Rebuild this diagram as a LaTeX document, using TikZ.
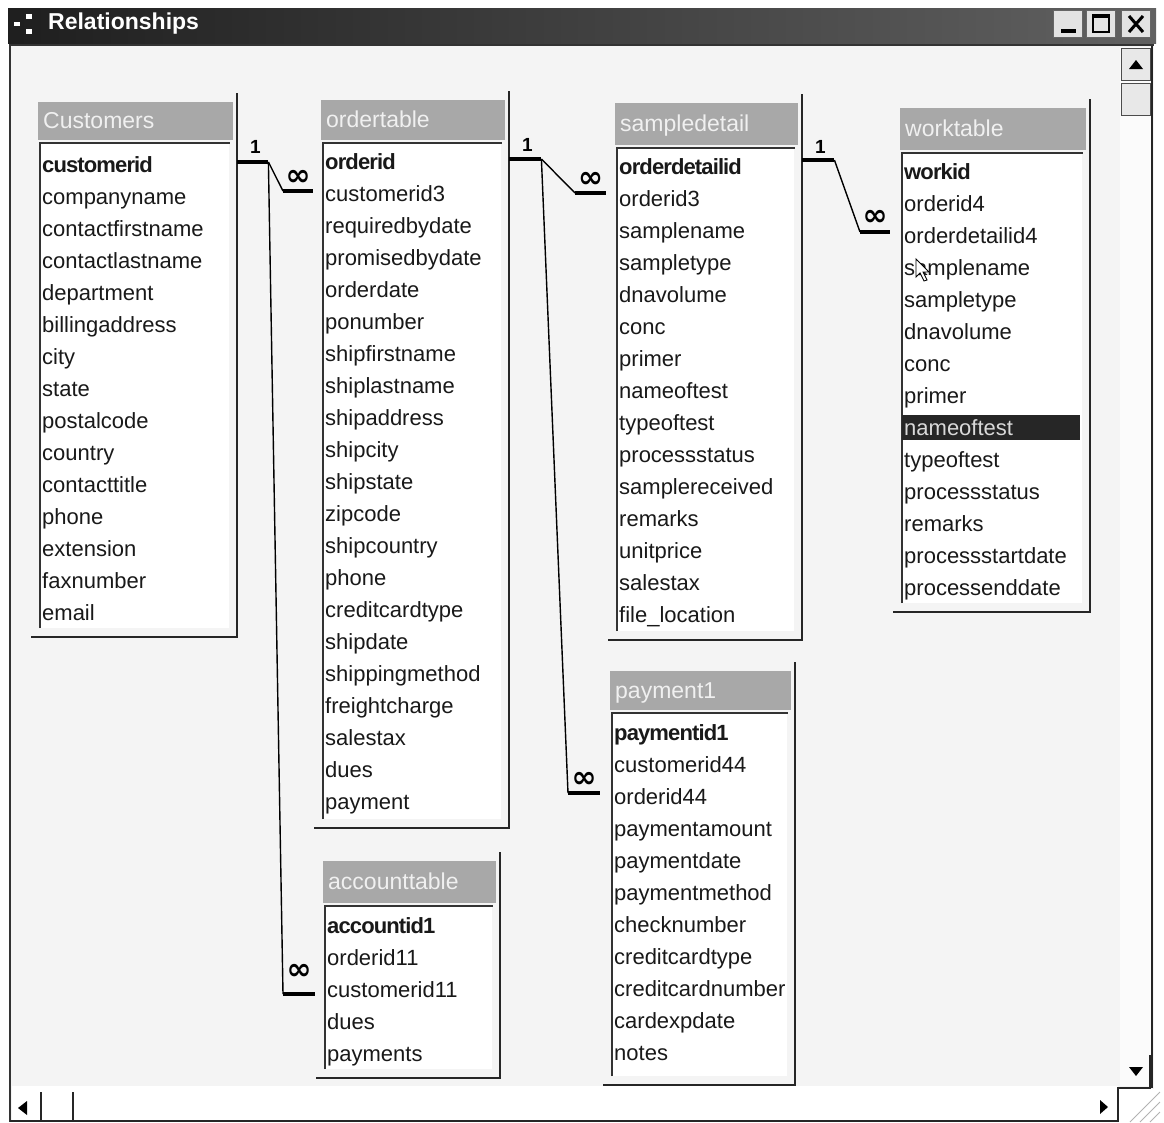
\documentclass[tikz,border=0pt]{standalone}
\usepackage{fontspec}
\setmainfont{Liberation Sans}
\newfontfamily\tightsans[LetterSpace=-4.0]{Liberation Sans}
\newfontfamily\symsans{DejaVu Sans}
\usetikzlibrary{calc}

\tikzset{
  field/.style={anchor=base west, inner sep=0pt, font=\fontsize{22}{24}\selectfont, text=black!90},
  keyfield/.style={field, font=\fontsize{22}{24}\selectfont\tightsans\bfseries},
  ttitle/.style={anchor=base west, inner sep=0pt, font=\fontsize{23}{25}\selectfont, text=white!88!gray},
  tframe/.style={inner sep=0pt, fill=gray!9, anchor=north west},
  edge/.style={line width=2pt, draw=black!85},
  rel/.style={line width=1.4pt, draw=black},
  stub/.style={line width=4pt, draw=black},
  onelbl/.style={inner sep=0pt, font=\fontsize{19}{19}\selectfont\bfseries},
  manylbl/.style={inner sep=0pt, font=\fontsize{30}{30}\selectfont\symsans\bfseries},
  fld work 8/.style={fill=black!85, text=white!85!black, xshift=-2pt,
    text width=174pt, minimum height=25pt, inner xsep=2pt},
  wintitle/.style={anchor=west, inner sep=0pt, font=\fontsize{23}{25}\selectfont\bfseries, text=white},
  winbtn/.style={minimum width=29pt, minimum height=27pt, inner sep=0pt, fill=gray!22, draw=black!60, line width=0.8pt},
  sbtn/.style={minimum width=29pt, minimum height=32pt, inner sep=0pt, fill=gray!18, draw=black!70, line width=1pt},
}

% field list window: name, left, right, top, header bottom, bottom, title, first row y, fields
\newcommand\acctable[9]{%
  \node[tframe, minimum width={(#3-#2)*1pt}, minimum height={(#6-#4)*1pt}] (#1) at (#2,#4) {};
  \fill[gray!68] (#2+3,#4+3) rectangle (#3-4,#5);
  \node[ttitle] (#1-title) at (#2+8,{(#4+#5)/2+9}) {#7};
  \fill[white] (#2+5,#5+3) rectangle (#3-8,#6-9);
  \draw[black!80, line width=1.6pt] (#2+5,#6-9) -- (#2+5,#5+3) -- (#3-7,#5+3);
  \draw[edge] (#3,#4-6) -- (#3,#6) -- (#2-4,#6);
  \foreach \f [count=\i from 0] in {#9} {%
    \ifnum\i=0
      \node[keyfield] (#1-\i) at (#2+7,#8+7) {\f};
    \else
      \node[field, fld #1 \i/.try] (#1-\i) at (#2+7,{#8+7+32*\i}) {\f};
    \fi
  }%
}

\begin{document}
\begin{tikzpicture}[x=1pt,y=-1pt]
\useasboundingbox (0,0) rectangle (1164,1122);

% screen and window body
\fill[white] (0,0) rectangle (1164,1122);
\fill[gray!9] (9,42) rectangle (1154,1122);

% title bar
\shade[left color=black!88, right color=black!62] (8,8) rectangle (1156,43);
\fill[white] (14,22) rectangle (20,26);
\fill[white] (26,14) rectangle (32,19);
\fill[white] (26,29) rectangle (32,34);
\node[wintitle] (wtitle) at (48,24) {Relationships};
\node[winbtn] (bmin) at (1068,24) {};
\node[winbtn] (bmax) at (1101,24) {};
\node[winbtn] (bcls) at (1136,24) {};
\fill[black] (1061,29) rectangle (1076,33);
\draw[black, line width=1.5pt] (1093,15) rectangle (1109,32);
\draw[black, line width=3pt] (1093,16) -- (1109,16);
\draw[black, line width=3pt] (1129,16) -- (1143,32) (1143,16) -- (1129,32);

% client area borders
\draw[black!80, line width=2pt] (9,45) -- (1154,45);
\draw[black!80, line width=2pt] (10,44) -- (10,1122);

% tables
\acctable{cust}{35}{237}{99}{140}{637}{Customers}{165}{customerid,companyname,contactfirstname,contactlastname,department,billingaddress,city,state,postalcode,country,contacttitle,phone,extension,faxnumber,email}
\acctable{ord}{318}{509}{97}{140}{828}{ordertable}{162}{orderid,customerid3,requiredbydate,promisedbydate,orderdate,ponumber,shipfirstname,shiplastname,shipaddress,shipcity,shipstate,zipcode,shipcountry,phone,creditcardtype,shipdate,shippingmethod,freightcharge,salestax,dues,payment}
\acctable{samp}{612}{802}{100}{145}{640}{sampledetail}{167}{orderdetailid,orderid3,samplename,sampletype,dnavolume,conc,primer,nameoftest,typeoftest,processstatus,samplereceived,remarks,unitprice,salestax,file\_location}
\acctable{work}{897}{1090}{105}{150}{612}{worktable}{172}{workid,orderid4,orderdetailid4,samplename,sampletype,dnavolume,conc,primer,nameoftest,typeoftest,processstatus,remarks,processstartdate,processenddate}
\acctable{pay}{607}{795}{668}{710}{1085}{payment1}{733}{paymentid1,customerid44,orderid44,paymentamount,paymentdate,paymentmethod,checknumber,creditcardtype,creditcardnumber,cardexpdate,notes}
\acctable{acct}{320}{500}{858}{903}{1078}{accounttable}{926}{accountid1,orderid11,customerid11,dues,payments}

% mouse pointer over worktable
\draw[black, line width=0.9pt, fill=white] (916,259) -- (916,277) -- (920,273) -- (924,281) -- (927,280) -- (923,272) -- (929,272) -- cycle;

% relationship end points, taken from the table frames and their fields
\coordinate (r1s) at ($(cust.east |- cust-0.base)+(0,-10)$);
\coordinate (r1k) at ($(r1s)+(31,0)$);
\coordinate (r2t) at ($(ord.west |- ord-1.base)+(-5,-10)$);
\coordinate (r2k) at ($(r2t)+(-30,0)$);
\coordinate (r3t) at ($(acct.west |- acct-2.base)+(-5,-3)$);
\coordinate (r3k) at ($(r3t)+(-32,0)$);
\coordinate (r4s) at ($(ord.east |- ord-0.base)+(0,-10)$);
\coordinate (r4k) at ($(r4s)+(32,0)$);
\coordinate (r5t) at ($(samp.west |- samp-1.base)+(-6,-13)$);
\coordinate (r5k) at ($(r5t)+(-31,0)$);
\coordinate (r6t) at ($(pay.west |- pay-2.base)+(-7,-11)$);
\coordinate (r6k) at ($(r6t)+(-32,0)$);
\coordinate (r7s) at ($(samp.east |- samp-0.base)+(0,-14)$);
\coordinate (r7k) at ($(r7s)+(32,0)$);
\coordinate (r8t) at ($(work.west |- work-2.base)+(-7,-11)$);
\coordinate (r8k) at ($(r8t)+(-30,0)$);

% customerid -> customerid3, customerid11
\draw[stub] (r1s) -- (r1k);
\draw[rel] (r1k) -- (r2k);
\draw[rel] (r1k) -- (r3k);
\draw[stub] (r2k) -- (r2t);
\draw[stub] (r3k) -- (r3t);
\node[onelbl] (one1) at ($(r1s)+(18,-15)$) {1};
\node[manylbl] (many2) at ($(r2k)!0.5!(r2t)+(0,-13)$) {∞};
\node[manylbl] (many3) at ($(r3k)!0.5!(r3t)+(0,-22)$) {∞};

% orderid -> orderid3, orderid44
\draw[stub] (r4s) -- (r4k);
\draw[rel] (r4k) -- (r5k);
\draw[rel] (r4k) -- (r6k);
\draw[stub] (r5k) -- (r5t);
\draw[stub] (r6k) -- (r6t);
\node[onelbl] (one4) at ($(r4s)+(18,-14)$) {1};
\node[manylbl] (many5) at ($(r5k)!0.5!(r5t)+(0,-13)$) {∞};
\node[manylbl] (many6) at ($(r6k)!0.5!(r6t)+(0,-13)$) {∞};

% orderdetailid -> orderdetailid4
\draw[stub] (r7s) -- (r7k);
\draw[rel] (r7k) -- (r8k);
\draw[stub] (r8k) -- (r8t);
\node[onelbl] (one7) at ($(r7s)+(18,-13)$) {1};
\node[manylbl] (many8) at ($(r8k)!0.5!(r8t)+(0,-14)$) {∞};

% vertical scroll bar
\fill[gray!3] (1120,47) rectangle (1151,1086);
\draw[black!85, line width=2pt] (1152,46) -- (1152,1088);
\node[sbtn] (sup) at (1136,64) {};
\fill[black] (1129,69) -- (1143,69) -- (1136,60) -- cycle;
\node[sbtn] (sthumb) at (1136,99) {};
\fill[black] (1129,1067) -- (1143,1067) -- (1136,1076) -- cycle;

% horizontal scroll bar and size grip
\fill[white] (12,1086) rectangle (1118,1122);
\fill[white] (1118,1089) rectangle (1164,1122);
\draw[black!85, line width=2pt] (10,1121) -- (1118,1121);
\fill[black] (18,1108) -- (27,1101) -- (27,1115) -- cycle;
\draw[black!85, line width=2pt] (41,1092) -- (41,1122) (73,1092) -- (73,1122);
\fill[black] (1108,1107) -- (1100,1100) -- (1100,1114) -- cycle;
\draw[black!85, line width=2pt] (1118,1122) -- (1118,1088) -- (1150,1088) -- (1150,1055);
\foreach \d in {0,10,20} {
  \draw[gray!60, line width=1pt] (1130+\d,1122) -- (1160,1092+\d);
}
\end{tikzpicture}
\end{document}
